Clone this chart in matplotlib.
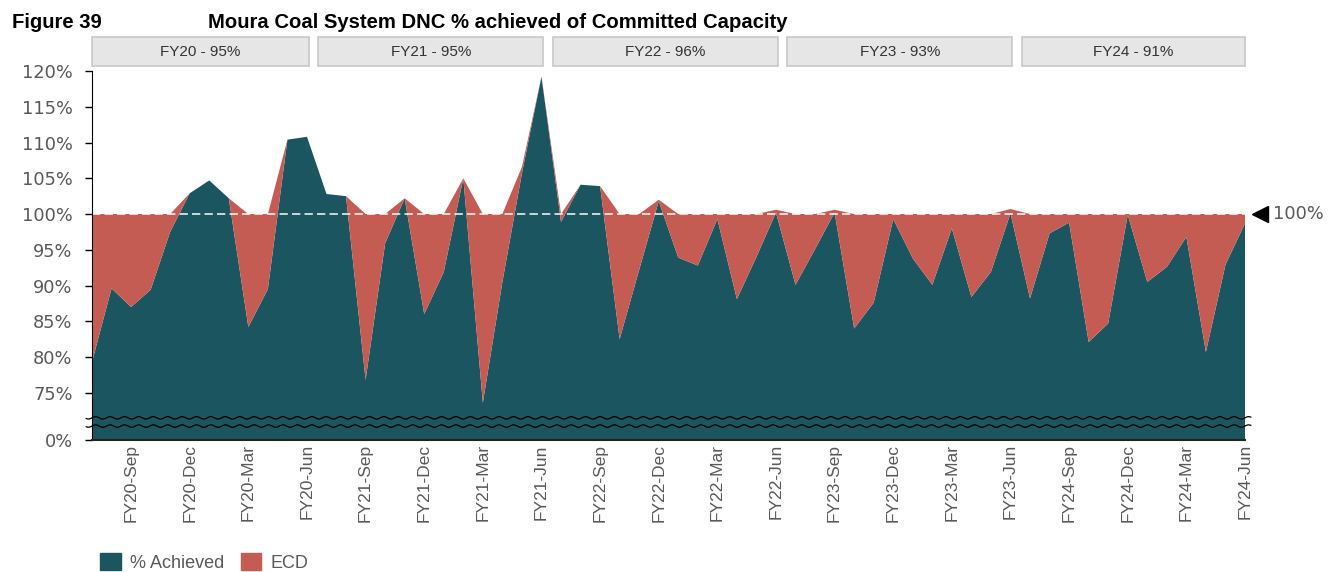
import numpy as np
import matplotlib
matplotlib.use("Agg")
import matplotlib.pyplot as plt
import matplotlib.transforms as mtransforms
from matplotlib.patches import Rectangle, Patch

# Moura Coal System - DNC % achieved of committed capacity, Jul-2019 .. Jun-2024 (monthly)
fiscal_years = ["FY20", "FY21", "FY22", "FY23", "FY24"]
fy_achieved = [95, 95, 96, 93, 91]

achieved = [79.3, 89.6, 87.0, 89.4, 97.5, 102.9, 104.7, 102.2, 84.2, 89.5, 110.4, 110.8,
            102.8, 102.5, 76.8, 95.9, 102.2, 86.0, 91.9, 105.0, 73.6, 90.5, 105.7, 119.2,
            98.9, 104.1, 103.9, 82.5, 92.2, 101.8, 93.9, 92.8, 99.3, 88.1, 94.0, 100.2,
            90.1, 95.1, 100.2, 84.0, 87.6, 99.3, 93.8, 90.1, 98.0, 88.4, 91.9, 100.1,
            88.2, 97.3, 98.8, 82.1, 84.7, 99.9, 90.5, 92.6, 96.8, 80.7, 92.9, 98.7]
ecd = [20.7, 10.4, 13.0, 10.6, 2.5, 0, 0, 0, 15.8, 10.5, 0, 0,
       0, 0, 23.2, 4.1, 0, 14.0, 8.1, 0, 26.4, 9.5, 0.9, 0,
       1.1, 0, 0, 17.5, 7.8, 0.2, 6.1, 7.2, 0.7, 11.9, 6.0, 0.4,
       9.9, 4.9, 0.4, 16.0, 12.4, 0.7, 6.2, 9.9, 2.0, 11.6, 8.1, 0.6,
       11.8, 2.7, 1.2, 17.9, 15.3, 0.1, 9.5, 7.4, 3.2, 19.3, 7.1, 1.3]

tick_idx = list(range(2, 60, 3))
tick_labels = []
for fy in fiscal_years:
    for m in ["Sep", "Dec", "Mar", "Jun"]:
        tick_labels.append(f"{fy}-{m}")

TEAL = "#1b5560"
RED = "#c55c53"
GREY = "#595959"

W, H = 1339, 572
fig = plt.figure(figsize=(W / 100, H / 100), dpi=100)
ax = fig.add_axes([92 / W, 1 - 440 / H, (1245 - 92) / W, (440 - 71) / H])

x = np.arange(len(achieved))
ax.stackplot(x, achieved, ecd, colors=[TEAL, RED], labels=["% Achieved", "ECD"], lw=0)
ax.axhline(100, color="white", lw=1.2, ls=(0, (5, 2.5)), alpha=0.9)

ybot = 68.4
ax.set_xlim(0, 59)
ax.set_ylim(ybot, 120)

yticks = [ybot] + list(range(75, 121, 5))
ax.set_yticks(yticks)
ax.set_yticklabels(["0%"] + [f"{v}%" for v in range(75, 121, 5)],
                   fontsize=12.8, color=GREY, family="DejaVu Sans")
ax.tick_params(axis="y", length=5, width=1, color="black", pad=9)

ax.set_xticks(tick_idx)
ax.set_xticklabels(tick_labels, rotation=90, fontsize=12.5, color=GREY,
                   family="Liberation Sans")
ax.tick_params(axis="x", length=0, pad=3)

for s in ["top", "right"]:
    ax.spines[s].set_visible(False)
ax.spines["left"].set_color("black")
ax.spines["bottom"].set_color("#222222")
ax.spines["bottom"].set_linewidth(1.5)

# axis break squiggles
tr = mtransforms.blended_transform_factory(ax.transAxes, ax.transData)
xs = np.linspace(-0.005, 1.005, 800)
for yc in [71.5, 70.35]:
    ax.plot(xs, yc + 0.17 * np.sin(2 * np.pi * xs / 0.0125), color="black",
            lw=0.9, transform=tr, clip_on=False)

# 100% marker on the right
ax.plot([1.013], [100], marker="<", ms=11, color="black", transform=tr, clip_on=False)
ax.text(1.024, 100, "100%", transform=tr, va="center", ha="left",
        fontsize=12.8, color=GREY, family="DejaVu Sans")

# fiscal year boxes
trf = mtransforms.blended_transform_factory(ax.transData, fig.transFigure)
for k, (fy, v) in enumerate(zip(fiscal_years, fy_achieved)):
    x0 = max(12 * k - 0.42, 0)
    x1 = min(12 * k + 11.1, 59)
    y0, y1 = 1 - 66 / H, 1 - 37 / H
    fig.patches.append(Rectangle((x0, y0), x1 - x0, y1 - y0, transform=trf,
                                 facecolor="#e6e6e6", edgecolor="#c8c8c8", lw=1.2))
    fig.text((x0 + x1) / 2, (y0 + y1) / 2, f"{fy} - {v}%", transform=trf,
             ha="center", va="center", fontsize=11, color="#333333",
             family="Liberation Sans")

# titles
fig.text(12 / W, 1 - 28 / H, "Figure 39", fontsize=14.6, fontweight="bold",
         family="Liberation Sans", va="baseline")
fig.text(208 / W, 1 - 28 / H, "Moura Coal System DNC % achieved of Committed Capacity",
         fontsize=14.6, fontweight="bold", family="Liberation Sans", va="baseline")

# legend
handles = [Patch(color=TEAL, label="% Achieved"), Patch(color=RED, label="ECD")]
fig.legend(handles=handles, loc="lower left", bbox_to_anchor=(93 / W, -0.012), ncol=2,
           frameon=False, handlelength=1.15, handleheight=1.15, handletextpad=0.5,
           columnspacing=0.9, prop={"family": "Liberation Sans", "size": 13},
           labelcolor=GREY, borderaxespad=0.0)

fig.savefig("out.png", dpi=100)
